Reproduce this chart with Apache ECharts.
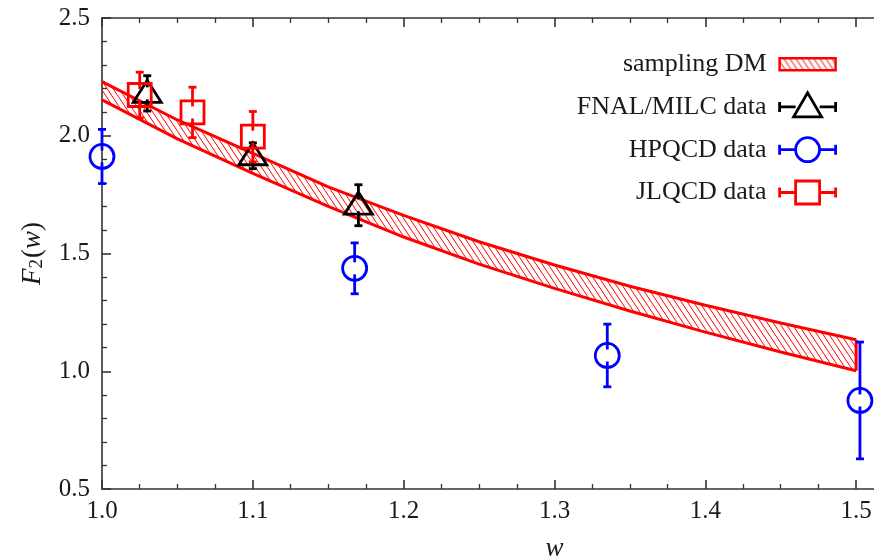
<!DOCTYPE html>
<html>
<head>
<meta charset="utf-8">
<script src="https://cdn.jsdelivr.net/npm/echarts@6/dist/echarts.min.js"></script>
<style>
  html, body { margin: 0; padding: 0; background: #fff; }
  #chart { width: 874px; height: 557px; }
</style>
</head>
<body>
<div id="chart"></div>
<script>
// Form factor F2(w): dispersive-matrix band and lattice data points
const bandW     = [1.00, 1.05, 1.10, 1.15, 1.20, 1.25, 1.30, 1.35, 1.40, 1.45, 1.50];
const bandUpper = [2.230, 2.067, 1.925, 1.783, 1.662, 1.550, 1.451, 1.361, 1.280, 1.205, 1.134];
const bandLower = [2.152, 1.987, 1.840, 1.700, 1.570, 1.455, 1.352, 1.256, 1.166, 1.082, 1.002];

const fnalW   = [1.03, 1.10, 1.17];
const fnalF   = [2.180, 1.915, 1.705];
const fnalErr = [0.075, 0.055, 0.087];

const hpqcdW   = [1.0, 1.1675, 1.335, 1.5025];
const hpqcdF   = [1.912, 1.437, 1.067, 0.876];
const hpqcdErr = [0.115, 0.108, 0.133, 0.248];

const jlqcdW   = [1.025, 1.06, 1.10];
const jlqcdF   = [2.173, 2.099, 1.996];
const jlqcdErr = [0.097, 0.107, 0.107];

const xTickLabels = ['1.0', '1.1', '1.2', '1.3', '1.4', '1.5'];
const yTickLabels = ['0.5', '1.0', '1.5', '2.0', '2.5'];

const FONT = "'Liberation Serif', 'DejaVu Serif', serif";
const TEXT_COLOR = '#1a1a1a';
const AXIS_COLOR = '#333';
const RED = '#ff0000', BLUE = '#0000ff', BLACK = '#000000';

// diagonal hatch tile for the band
function makeHatch() {
  const w = 6, h = 9;
  const c = document.createElement('canvas');
  c.width = w; c.height = h;
  const ctx = c.getContext('2d');
  ctx.strokeStyle = RED;
  ctx.lineWidth = 1;
  for (let k = -1; k <= 1; k++) {
    ctx.beginPath();
    ctx.moveTo(k * w - w, -h);
    ctx.lineTo(k * w + 2 * w, 2 * h);
    ctx.stroke();
  }
  return { image: c, repeat: 'repeat' };
}
const hatch = makeHatch();

const zip3 = (a, b, c) => a.map((v, i) => [v, b[i], c[i]]);

// hatched strip between the lower and upper curves, one quad per interval
function bandRenderer(params, api) {
  const i = params.dataIndexInside;
  if (i >= params.dataInsideLength - 1) return null;
  const x0 = api.value(0, i), x1 = api.value(0, i + 1);
  const p = [
    api.coord([x0, api.value(1, i)]),
    api.coord([x1, api.value(1, i + 1)]),
    api.coord([x1, api.value(2, i + 1)]),
    api.coord([x0, api.value(2, i)])
  ];
  return { type: 'polygon', shape: { points: p }, style: { fill: hatch, stroke: null } };
}

// error bar + hollow marker drawn in pixel space from data coordinates
function errorBarRenderer(shape, color) {
  return function (params, api) {
    const x = api.value(0), y = api.value(1), e = api.value(2);
    const c = api.coord([x, y]);
    const top = api.coord([x, y + e]);
    const bot = api.coord([x, y - e]);
    const gap = 6, cap = 4;
    const ls = { stroke: color, lineWidth: 2.8 };
    const kids = [
      { type: 'line', shape: { x1: c[0], y1: c[1] - gap, x2: c[0], y2: top[1] }, style: ls },
      { type: 'line', shape: { x1: c[0] - cap, y1: top[1], x2: c[0] + cap, y2: top[1] }, style: ls },
      { type: 'line', shape: { x1: c[0], y1: c[1] + gap, x2: c[0], y2: bot[1] }, style: ls },
      { type: 'line', shape: { x1: c[0] - cap, y1: bot[1], x2: c[0] + cap, y2: bot[1] }, style: ls }
    ];
    const ms = { fill: 'none', stroke: color, lineWidth: 2.8 };
    if (shape === 'circle') {
      kids.push({ type: 'circle', shape: { cx: c[0], cy: c[1], r: 12 }, style: ms });
    } else if (shape === 'rect') {
      kids.push({ type: 'rect', shape: { x: c[0] - 11.5, y: c[1] - 11.5, width: 23, height: 23 }, style: ms });
    } else {
      kids.push({ type: 'polygon', shape: { points: [[c[0] - 14, c[1] + 9], [c[0] + 14, c[1] + 9], [c[0], c[1] - 13]] }, style: ms });
    }
    return { type: 'group', children: kids };
  };
}

// legend icons (65 x 30 box, 7px blank strip on the left as text spacing)
const triIcon = 'path://M0,0 M65,30 M8,15 L24,15 M48,15 L64,15 M8,10 L8,20 M64,10 L64,20 M22,25 L50,25 L36,1 Z';
const cirIcon = 'path://M0,0 M65,30 M8,15 L24,15 M48,15 L64,15 M8,10 L8,20 M64,10 L64,20 M48,15 A12,12 0 1 1 24,15 A12,12 0 1 1 48,15 Z';
const sqIcon  = 'path://M0,0 M65,30 M8,15 L24,15 M48,15 L64,15 M8,10 L8,20 M64,10 L64,20 M24,3.5 L48,3.5 L48,26.5 L24,26.5 Z';
const bandIcon = 'path://M0,0 M65,30 M8,9 L64,9 L64,21 L8,21 Z';

const last = bandW.length - 1;

const axisLineStyle = { color: AXIS_COLOR, width: 1.6 };
const minorStyle = { color: AXIS_COLOR, width: 1.3 };

const option = {
  animation: false,
  backgroundColor: '#fff',
  grid: { left: 102, top: 18, width: 905, height: 471, containLabel: false, outerBoundsMode: 'none' },
  legend: {
    orient: 'vertical',
    right: 36,
    top: 48,
    align: 'right',
    itemWidth: 65,
    itemHeight: 30,
    itemGap: 10,
    padding: 0,
    selectedMode: false,
    textStyle: { fontFamily: FONT, fontSize: 26, color: TEXT_COLOR },
    data: [
      { name: 'sampling DM', icon: bandIcon, itemStyle: { color: hatch, borderColor: RED, borderWidth: 2.5 } },
      { name: 'FNAL/MILC data', icon: triIcon, itemStyle: { color: '#fff', borderColor: BLACK, borderWidth: 2.8 } },
      { name: 'HPQCD data', icon: cirIcon, itemStyle: { color: '#fff', borderColor: BLUE, borderWidth: 2.8 } },
      { name: 'JLQCD data', icon: sqIcon, itemStyle: { color: '#fff', borderColor: RED, borderWidth: 2.8 } }
    ]
  },
  xAxis: [
    {
      type: 'value', position: 'bottom', min: 1.0, max: 1.6, interval: 0.1,
      axisLine: { lineStyle: axisLineStyle },
      axisTick: { inside: true, length: 9, lineStyle: axisLineStyle },
      minorTick: { show: true, splitNumber: 4, length: 5, lineStyle: minorStyle },
      splitLine: { show: false },
      axisLabel: {
        margin: 10, fontFamily: FONT, fontSize: 25, color: TEXT_COLOR,
        formatter: v => xTickLabels[Math.round((v - 1.0) / 0.1)] || ''
      },
      name: 'w', nameLocation: 'middle', nameGap: 46,
      nameTextStyle: { fontFamily: FONT, fontSize: 27, fontStyle: 'italic', color: TEXT_COLOR }
    },
    {
      type: 'value', position: 'top', min: 1.0, max: 1.6, interval: 0.1,
      axisLine: { lineStyle: axisLineStyle },
      axisTick: { inside: true, length: 9, lineStyle: axisLineStyle },
      minorTick: { show: true, splitNumber: 4, length: 5, lineStyle: minorStyle },
      splitLine: { show: false },
      axisLabel: { show: false }
    }
  ],
  yAxis: [
    {
      type: 'value', position: 'left', min: 0.5, max: 2.5, interval: 0.5,
      axisLine: { show: true, lineStyle: axisLineStyle },
      axisTick: { show: true, inside: true, length: 9, lineStyle: axisLineStyle },
      minorTick: { show: true, splitNumber: 5, length: 5, lineStyle: minorStyle },
      splitLine: { show: false },
      axisLabel: {
        margin: 12, fontFamily: FONT, fontSize: 25, color: TEXT_COLOR,
        formatter: v => yTickLabels[Math.round((v - 0.5) / 0.5)] || ''
      },
      name: '{it|F}{sub|2}({it|w})', nameLocation: 'middle', nameGap: 55,
      nameTextStyle: {
        fontFamily: FONT, fontSize: 27, color: TEXT_COLOR,
        rich: {
          it: { fontFamily: FONT, fontSize: 27, fontStyle: 'italic', color: TEXT_COLOR },
          sub: { fontFamily: FONT, fontSize: 19, color: TEXT_COLOR, padding: [10, 1, 0, 0] }
        }
      }
    }
  ],
  series: [
    {
      name: 'sampling DM', type: 'custom', silent: true, z: 1,
      itemStyle: { color: RED },
      encode: { x: 0, y: [1, 2] },
      data: zip3(bandW, bandLower, bandUpper),
      renderItem: bandRenderer
    },
    {
      name: 'band lower', type: 'line', silent: true, z: 2,
      data: bandW.map((w, i) => [w, bandLower[i]]),
      symbol: 'none', lineStyle: { color: RED, width: 3 }
    },
    {
      name: 'band upper', type: 'line', silent: true, z: 2,
      data: bandW.map((w, i) => [w, bandUpper[i]]),
      symbol: 'none', lineStyle: { color: RED, width: 3 }
    },
    {
      name: 'band edge', type: 'line', silent: true, z: 2,
      data: [[bandW[last], bandLower[last]], [bandW[last], bandUpper[last]]],
      symbol: 'none', lineStyle: { color: RED, width: 3 }
    },
    {
      name: 'FNAL/MILC data', type: 'custom', clip: false, z: 3,
      itemStyle: { color: BLACK },
      encode: { x: 0, y: 1 },
      data: zip3(fnalW, fnalF, fnalErr),
      renderItem: errorBarRenderer('triangle', BLACK)
    },
    {
      name: 'HPQCD data', type: 'custom', clip: false, z: 3,
      itemStyle: { color: BLUE },
      encode: { x: 0, y: 1 },
      data: zip3(hpqcdW, hpqcdF, hpqcdErr),
      renderItem: errorBarRenderer('circle', BLUE)
    },
    {
      name: 'JLQCD data', type: 'custom', clip: false, z: 3,
      itemStyle: { color: RED },
      encode: { x: 0, y: 1 },
      data: zip3(jlqcdW, jlqcdF, jlqcdErr),
      renderItem: errorBarRenderer('rect', RED)
    }
  ]
};

const chart = echarts.init(document.getElementById('chart'), null, { renderer: 'canvas' });
chart.setOption(option);
</script>
</body>
</html>
